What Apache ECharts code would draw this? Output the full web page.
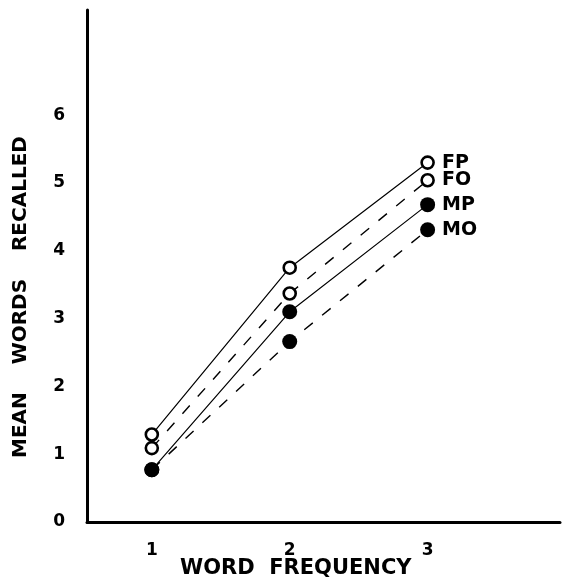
<!DOCTYPE html>
<html>
<head>
<meta charset="utf-8">
<script src="https://cdn.jsdelivr.net/npm/echarts@6/dist/echarts.min.js"></script>
<style>
  html, body { margin: 0; padding: 0; background: #fff; }
  #main { width: 568px; height: 586px; }
</style>
</head>
<body>
<div id="main"></div>
<script>
// values
const frequency = [1, 2, 3]
const fp = [1.29, 3.75, 5.30]
const fo = [1.09, 3.37, 5.04]
const mp = [0.77, 3.10, 4.68]
const mo = [0.77, 2.66, 4.31]
const groupNames = ['FP', 'FO', 'MP', 'MO']
const xTicks = [1, 2, 3]
const yTicks = [0, 1, 2, 3, 4, 5, 6]

const font = 'DejaVu Sans'

function makeSeries(name, values, open, dashed) {
  return {
    name: name,
    type: 'line',
    data: frequency.map((f, i) => [f, values[i]]),
    symbol: 'circle',
    symbolSize: open ? 12 : 15,
    itemStyle: {
      color: open ? '#fff' : '#000',
      borderColor: '#000',
      borderWidth: open ? 2.6 : 0
    },
    lineStyle: {
      color: '#000',
      width: dashed ? 1.4 : 1.2,
      type: dashed ? [11, 12] : 'solid'
    },
    label: {
      show: true,
      position: 'right',
      distance: 7,
      color: '#000',
      fontFamily: font,
      fontWeight: 'bold',
      fontSize: 19,
      formatter: p => (p.dataIndex === values.length - 1 ? name : '')
    },
    emphasis: { disabled: true },
    animation: false,
    z: 3
  }
}

let myChart = echarts.init(document.getElementById('main'))

myChart.setOption({
  backgroundColor: '#fff',
  grid: { left: 87, right: 8, top: 10, bottom: 64 },
  xAxis: {
    type: 'value',
    min: 0.53,
    max: 3.96,
    axisLine: { lineStyle: { color: '#000', width: 3 } },
    axisTick: { show: false },
    splitLine: { show: false },
    axisLabel: {
      customValues: xTicks,
      margin: 20,
      color: '#000',
      fontFamily: font,
      fontWeight: 'bold',
      fontSize: 17
    }
  },
  yAxis: {
    type: 'value',
    min: 0,
    max: 7.55,
    axisLine: { show: true, lineStyle: { color: '#000', width: 3 } },
    axisTick: { show: false },
    splitLine: { show: false },
    axisLabel: {
      customValues: yTicks,
      margin: 22,
      color: '#000',
      fontFamily: font,
      fontWeight: 'bold',
      fontSize: 17
    }
  },
  graphic: [
    {
      type: 'text',
      left: 180,
      top: 558,
      style: {
        text: 'WORD  FREQUENCY',
        fill: '#000',
        font: 'bold 21px "' + font + '"'
      }
    },
    {
      type: 'text',
      x: 11,
      y: 458,
      rotation: Math.PI / 2,
      style: {
        text: 'MEAN    WORDS    RECALLED',
        fill: '#000',
        font: 'bold 20px "' + font + '"',
        textAlign: 'left',
        textVerticalAlign: 'top'
      }
    }
  ],
  series: [
    makeSeries(groupNames[0], fp, true, false),
    makeSeries(groupNames[1], fo, true, true),
    makeSeries(groupNames[2], mp, false, false),
    makeSeries(groupNames[3], mo, false, true)
  ]
})
</script>
</body>
</html>
